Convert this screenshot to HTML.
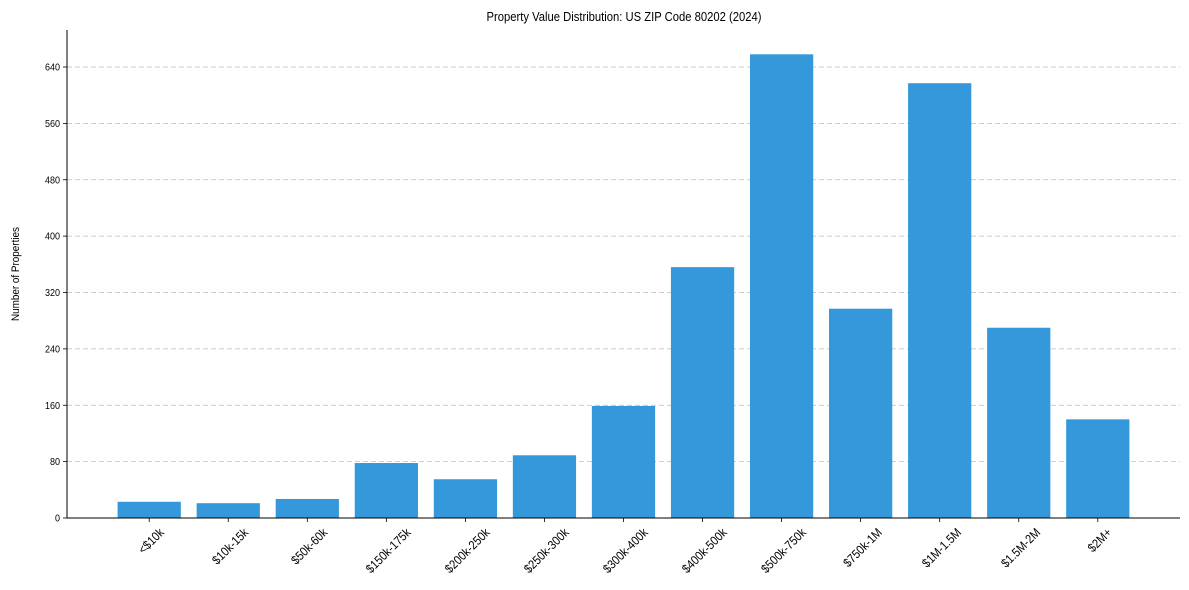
<!DOCTYPE html>
<html><head><meta charset="utf-8"><style>
body{margin:0;background:#fff;}
svg{display:block;font-family:"Liberation Sans",Arial,sans-serif;}
</style></head><body>
<svg id="chart" width="1189" height="590">
<text x="624" y="21" font-size="12.5" text-anchor="middle" fill="#000" transform="translate(624,21) scale(0.9,1) translate(-624,-21)">Property Value Distribution: US ZIP Code 80202 (2024)</text>
<text x="0" y="0" font-size="11" text-anchor="middle" fill="#000" transform="translate(19,274) rotate(-90) scale(0.9,1)">Number of Properties</text>
<g id="grid"></g><g id="bars"></g><g id="axes"></g>
</svg>
<script>
const categories=["<$10k","$10k-15k","$50k-60k","$150k-175k","$200k-250k","$250k-300k","$300k-400k","$400k-500k","$500k-750k","$750k-1M","$1M-1.5M","$1.5M-2M","$2M+"];
const values=[23,21,27,78,55,89,159,356,658,297,617,270,140];
const yTicks=[0,80,160,240,320,400,480,560,640];
const NS="http://www.w3.org/2000/svg";
const L=67,R=1180,T=30,B=518;
const yPx=451/640;
function y(v){return B-v*yPx;}
const xmin=-1.04,xmax=categories.length-1+1.04;
function x(i){return L+(i-xmin)/(xmax-xmin)*(R-L);}
const bw=0.8*(R-L)/(xmax-xmin);
function mk(tag,attrs,parent){const e=document.createElementNS(NS,tag);for(const k in attrs)e.setAttribute(k,attrs[k]);parent.appendChild(e);return e;}
const grid=document.getElementById('grid'),bars=document.getElementById('bars'),axes=document.getElementById('axes');
yTicks.forEach(t=>{
 if(t>0){const g=mk('line',{x1:L,x2:R,y1:y(t),y2:y(t),stroke:'#bdbdbd','stroke-dasharray':'5,3','stroke-width':0.8},grid);
 
 }
 const tk=mk('line',{x1:L-4,x2:L,y1:y(t),y2:y(t),stroke:'#000','stroke-width':0.8},axes);
 
 
 const lb=mk('text',{x:0,y:0,'font-size':10,'text-anchor':'end',transform:'translate('+(L-7)+','+(y(t)+3.5)+') scale(0.9,1)'},axes);
 lb.textContent=t;
 
 
});
categories.forEach((c,i)=>{
 const r=mk('rect',{x:x(i)-bw/2,y:y(values[i]),width:bw,height:B-y(values[i]),fill:'#3498db'},bars);
 
 
 const tk=mk('line',{x1:x(i),x2:x(i),y1:B,y2:B+4,stroke:'#000','stroke-width':0.8},axes);
 
 
 const t=mk('text',{x:0,y:0,'font-size':12.5,'text-anchor':'middle'},axes);
 t.textContent=c;
 
 
 const w=t.getComputedTextLength()*0.88, h=12.5;
 const half=(w+h)*0.707/2;
 t.setAttribute('transform','translate('+(x(i)+2)+','+(B+8+half)+') rotate(-45) scale(0.88,1) translate(0,4)');
});
const ax1=mk('line',{x1:L,x2:L,y1:T,y2:B,stroke:'#000','stroke-width':1},axes);


const ax2=mk('line',{x1:L,x2:R,y1:B,y2:B,stroke:'#000','stroke-width':1},axes);


</script>
</body></html>
